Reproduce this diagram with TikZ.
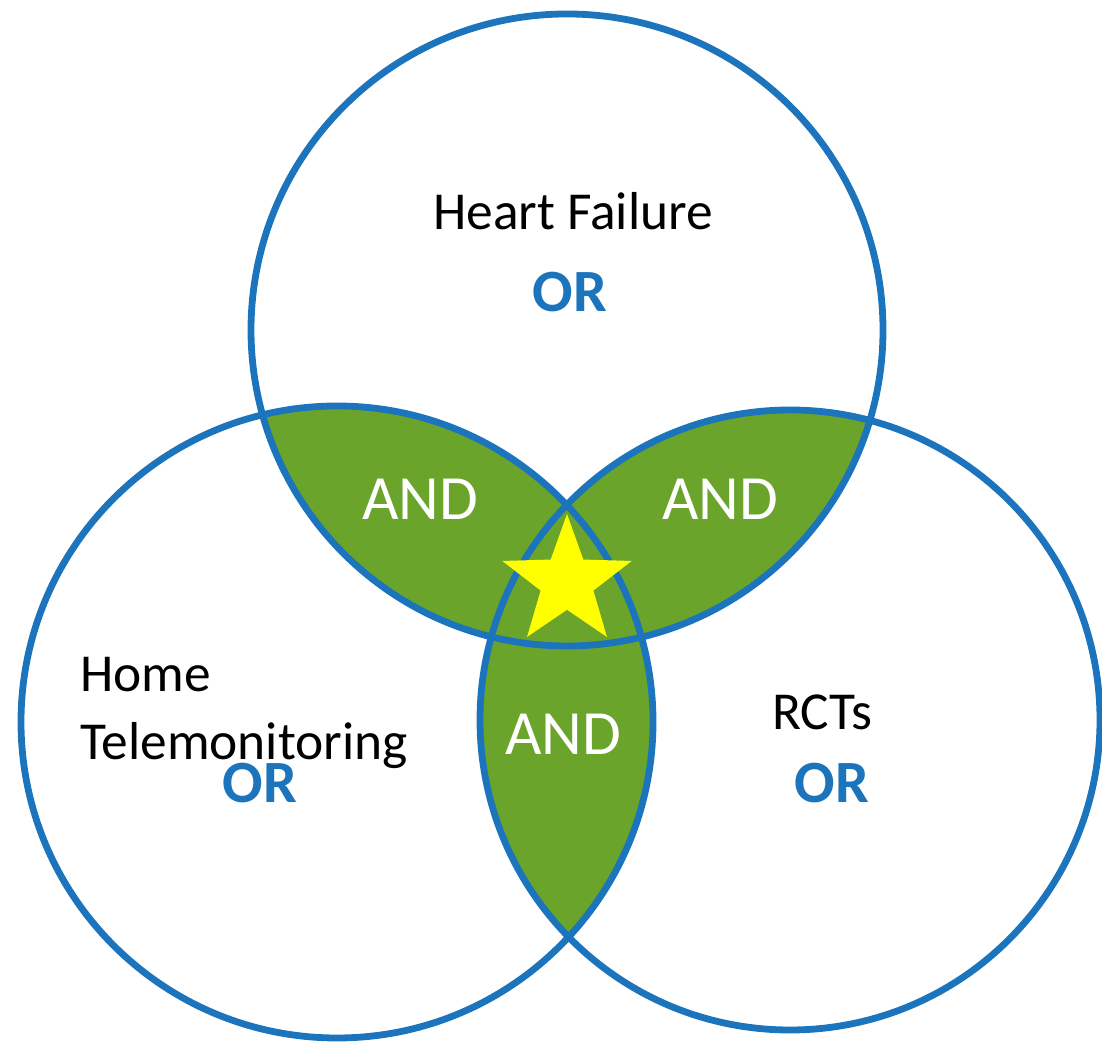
\documentclass[tikz,border=0pt]{standalone}
\usepackage{fontspec}
\setmainfont{Carlito}
\usetikzlibrary{shapes.geometric}
\definecolor{ringblue}{RGB}{28,117,188}
\definecolor{lensgreen}{RGB}{106,164,42}
\definecolor{staryellow}{RGB}{255,255,0}

\begin{document}
\begin{tikzpicture}[x=0.5pt,y=0.5pt,
  ring/.style={draw=ringblue,line width=3.4pt},
  txt/.style={inner sep=0pt,anchor=base,font=\fontsize{26.7}{32}\selectfont},
  orlabel/.style={txt,text=ringblue,font=\fontsize{30}{36}\selectfont\bfseries},
  andlabel/.style={txt,text=white,font=\fontsize{31.5}{38}\selectfont},
  starnode/.style={star,star points=5,star point ratio=2.45,fill=staryellow,inner sep=0pt,minimum size=68pt}]
  \useasboundingbox (0,0) rectangle (1102,1042);

  % centres and radii of the three sets
  \coordinate (hf) at (567,712);  \def\rhf{158pt}
  \coordinate (ht) at (337,320);  \def\rht{158pt}
  \coordinate (rct) at (790,322); \def\rrct{155pt}

  % pairwise overlaps in green
  \foreach \a/\ra/\b/\rb in {hf/\rhf/ht/\rht,hf/\rhf/rct/\rrct,ht/\rht/rct/\rrct} {
    \begin{scope}
      \clip (\a) circle (\ra);
      \fill[lensgreen] (\b) circle (\rb);
    \end{scope}
  }

  % the three circles
  \foreach \c/\rc in {hf/\rhf,ht/\rht,rct/\rrct}
    \draw[ring] (\c) circle (\rc);

  % star on the triple overlap
  \node[starnode] (star) at (567,460) {};

  % set names
  \node[txt] (hfname) at (573,812) {Heart Failure};
  \node[txt,anchor=base west] (htname) at (80,350) {Home};
  \node[txt,anchor=base west] (htname2) at (80,282) {Telemonitoring};
  \node[txt,anchor=base west] (rctname) at (772,312) {RCTs};

  % OR inside each set
  \node[orlabel] (hfor) at (570,730) {OR};
  \node[orlabel] (htor) at (260,239) {OR};
  \node[orlabel] (rctor) at (832,239) {OR};

  % AND on the overlaps
  \node[andlabel] (and1) at (420,522) {AND};
  \node[andlabel] (and2) at (720,522) {AND};
  \node[andlabel] (and3) at (563,287) {AND};
\end{tikzpicture}
\end{document}
